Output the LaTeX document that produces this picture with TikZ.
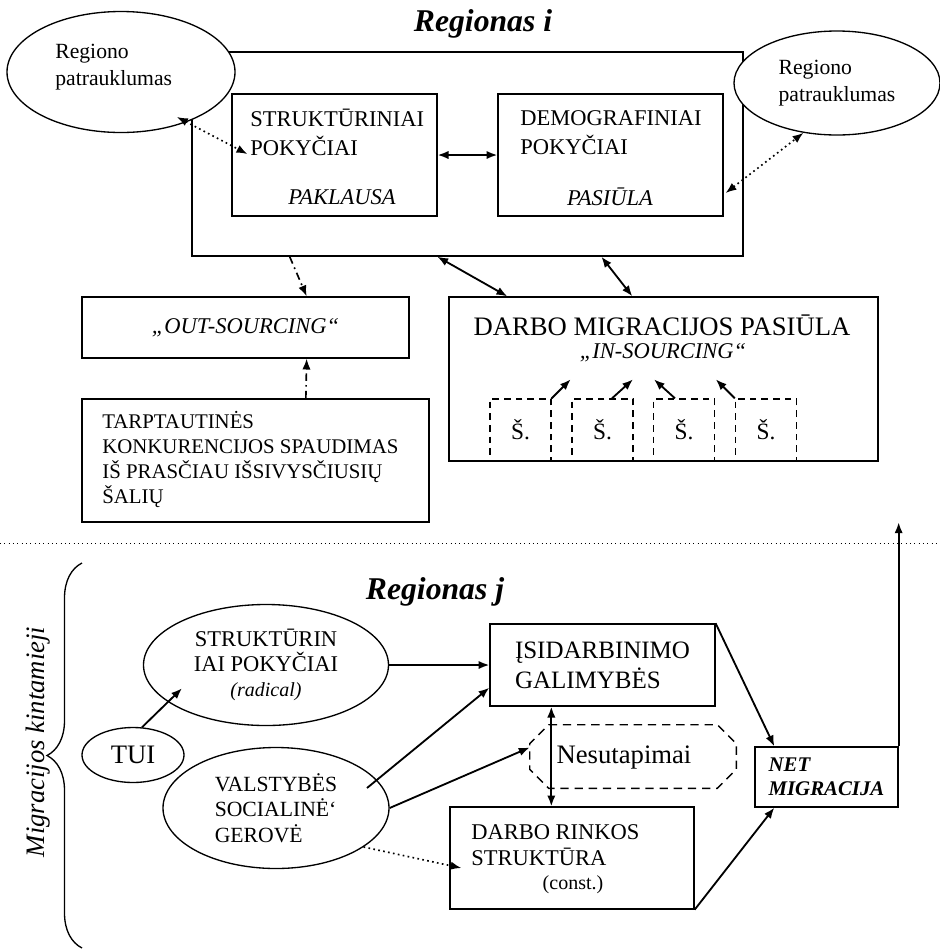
\documentclass[tikz,border=0pt]{standalone}
\usepackage{fontspec}
\setmainfont{Liberation Serif}
\usepackage{tikz}
\usetikzlibrary{arrows.meta,calc,shapes.geometric,decorations.pathreplacing}
\newcommand{\pu}{0.6pt}

\begin{document}
\begin{tikzpicture}[x=0.6pt,y=-0.6pt,>={Latex[length=6.5pt,width=5pt]},
    box/.style={draw,line width=0.8pt,inner sep=0pt},
    oval/.style={ellipse,draw,line width=0.8pt,inner sep=0pt},
    txt/.style={inner sep=0pt,align=left},
    title/.style={font=\fontsize{19}{22}\selectfont\bfseries\itshape},
    link/.style={->,line width=1.1pt},
    both/.style={<->,line width=1.1pt},
    dots/.style={<->,line width=1pt,dotted},
    dotarr/.style={->,line width=1pt,dotted},
    dd/.style={->,line width=1pt,dash pattern=on 4.5pt off 2.5pt on 1pt off 2.5pt}]

  \useasboundingbox (0,0) rectangle (940,950);

  % Regionas i
  \node[title] (ti) at (483,24) {Regionas i};
  \node[box,minimum width=551*\pu,minimum height=204*\pu] (ri) at (467.5,154) {};

  \node[oval,fill=white,minimum width=228*\pu,minimum height=121*\pu] (al) at (121,72) {};
  \node[txt,anchor=west,font=\fontsize{13}{16.2}\selectfont] (alt) at (55,67) {Regiono\\patrauklumas};
  \node[oval,fill=white,minimum width=206*\pu,minimum height=104*\pu,align=left,
        font=\fontsize{13}{16.2}\selectfont] (ar) at (837,83) {Regiono\\patrauklumas};

  \node[box,minimum width=205*\pu,minimum height=122*\pu] (s1) at (334.5,155) {};
  \node[txt,anchor=west,font=\fontsize{13.5}{17.4}\selectfont] (s1t) at (250,132.5) {STRUKTŪRINIAI\\POKYČIAI};
  \node[font=\fontsize{13.5}{16}\selectfont\itshape] (s1p) at (342,197) {PAKLAUSA};

  \node[box,minimum width=225*\pu,minimum height=122*\pu] (d1) at (610.5,155) {};
  \node[txt,anchor=west,font=\fontsize{13.5}{17.4}\selectfont] (d1t) at (520,132.5) {DEMOGRAFINIAI\\POKYČIAI};
  \node[font=\fontsize{13.5}{16}\selectfont\itshape] (d1p) at (610,197) {PASIŪLA};

  \draw[both] (s1) -- (d1);
  \coordinate (c1) at (177,117);
  \draw[dots] (c1) -- ($(s1.west)+(16,-1)$);
  \draw[dots] ($(d1.east)+(2,38)$) -- (ar.236);

  \node[box,minimum width=327*\pu,minimum height=61*\pu,
        font=\fontsize{13.5}{16}\selectfont\itshape] (os) at (245.5,327.5) {„OUT-SOURCING“};
  \node[box,minimum width=347*\pu,minimum height=123*\pu] (tk) at (255.5,460.5) {};
  \node[txt,anchor=west,font=\fontsize{12.5}{15}\selectfont] (tkt) at (102,459.5)
        {TARPTAUTINĖS\\KONKURENCIJOS SPAUDIMAS\\IŠ PRASČIAU IŠSIVYSČIUSIŲ\\ŠALIŲ};
  \draw[dd] (ri.210.6) -- (os.27);
  \draw[dd] (tk.51) -- (os.-27);

  \node[box,minimum width=429*\pu,minimum height=164*\pu] (dm) at (663.5,379) {};
  \node[font=\fontsize{16}{19}\selectfont] (dmt) at (662,325) {DARBO MIGRACIJOS PASIŪLA};
  \node[font=\fontsize{13.5}{16}\selectfont\itshape] (dmi) at (663,353) {„IN-SOURCING“};
  \draw[both] ($(ri.south west)+(246,0)$) -- ($(dm.north west)+(59,0)$);
  \draw[both] ($(ri.south west)+(410,0)$) -- ($(dm.north west)+(184,0)$);

  \foreach \x/\n in {520.5/1,602.5/2,684/3,766/4}
    \node[box,dash pattern=on 4pt off 3pt,minimum width=61*\pu,minimum height=62*\pu,
          font=\fontsize{14}{16}\selectfont] (sh\n) at (\x,430) {Š.};
  \draw[link] (sh1.north east) -- ++(19,-19);
  \draw[link] ($(sh2.north)+(9.5,0)$) -- ++(21,-19);
  \draw[link] ($(sh3.north)+(-9,0)$) -- ++(-21,-19);
  \draw[link] (sh4.north west) -- ++(-19,-19);

  \draw[dotted,line width=0.6pt] (0,543) -- (940,543);

  % Regionas j
  \node[title] (tj) at (435,592) {Regionas j};
  \draw[line width=0.8pt,decorate,decoration={brace,amplitude=21pt}] (82,948) -- (82,563);
  \node[rotate=90,font=\fontsize{16}{19}\selectfont\itshape] (mk) at (38,742) {Migracijos kintamieji};

  \node[oval,minimum width=245*\pu,minimum height=121*\pu,align=center,
        font=\fontsize{13.5}{15}\selectfont] (e1) at (266,665)
        {STRUKTŪRIN\\IAI POKYČIAI\\{\fontsize{12}{15}\selectfont\itshape (radical)}};
  \node[oval,minimum width=102*\pu,minimum height=55*\pu,
        font=\fontsize{16}{19}\selectfont] (tui) at (133,755) {TUI};
  \node[oval,minimum width=226*\pu,minimum height=121*\pu,align=left,
        font=\fontsize{13}{15.3}\selectfont] (v1) at (276,808) {VALSTYBĖS\\SOCIALINĖ‘\\GEROVĖ};
  \draw[link] (tui.72) -- ++(40,-39);

  \node[box,minimum width=225*\pu,minimum height=82*\pu,align=left,
        font=\fontsize{15}{18}\selectfont] (j1) at (602.5,665) {ĮSIDARBINIMO\\GALIMYBĖS};
  \node[box,minimum width=244*\pu,minimum height=102*\pu] (r1) at (572,858) {};
  \node[txt,anchor=west,font=\fontsize{13.5}{15.6}\selectfont] (r1t) at (471,845) {DARBO RINKOS\\STRUKTŪRA};
  \node[font=\fontsize{12}{14}\selectfont] (r1c) at (573,885) {(const.)};

  % Nesutapimai, cut corners
  \node[inner sep=0pt,minimum width=206*\pu,minimum height=63*\pu] (n1) at (633,756.5) {};
  \draw[dash pattern=on 5pt off 3.5pt,line width=0.8pt]
    ($(n1.north west)+(19,0)$) -- ($(n1.north east)+(-19,0)$) -- ($(n1.north east)+(0,19)$)
    -- ($(n1.south east)+(0,-19)$) -- ($(n1.south east)+(-19,0)$) -- ($(n1.south west)+(19,0)$)
    -- ($(n1.south west)+(0,-19)$) -- ($(n1.north west)+(0,19)$) -- cycle;
  \node[font=\fontsize{16}{19}\selectfont] (n1t) at (624,757) {Nesutapimai};

  \node[box,minimum width=143*\pu,minimum height=60*\pu,align=left,
        font=\fontsize{12.5}{14.4}\selectfont\bfseries\itshape] (nt) at (826.5,777) {NET\\MIGRACIJA};

  \draw[link] (e1) -- (j1);
  \draw[link] ($(v1.center)+(91,-20)$) -- ($(j1.south west)+(0,-19)$);
  \draw[link] (v1.east) -- (n1.175);
  \draw[both] ($(j1.south west)+(62,0)$) -- ($(r1.north west)+(102,0)$);
  \draw[dotarr] (v1.-24) -- ($(r1.west)+(12,10)$);
  \draw[link] (j1.north east) -- ($(nt.north west)+(20,0)$);
  \draw[link] (r1.south east) -- ($(nt.south west)+(20,0)$);
  \draw[link] (nt.north east) -- ++(0,-224);
\end{tikzpicture}
\end{document}
